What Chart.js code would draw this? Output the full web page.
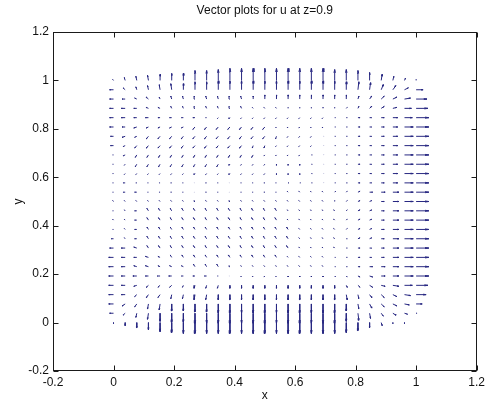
<!DOCTYPE html>
<html>
<head>
<meta charset="utf-8">
<script src="https://cdn.jsdelivr.net/npm/chart.js@4.4.0/dist/chart.umd.min.js"></script>
<style>
    html, body { margin: 0; padding: 0; background: #fff; }
    #wrap { width: 489px; height: 403px; }
</style>
</head>
<body>
<div id="wrap"><canvas id="graficaQuiver"></canvas></div>
<script>
// grid positions (27 x 27)
const xGrid = [0, 0.0385, 0.0769, 0.1154, 0.1538, 0.1923, 0.2308, 0.2692, 0.3077, 0.3462, 0.3846, 0.4231, 0.4615, 0.5,
    0.5385, 0.5769, 0.6154, 0.6538, 0.6923, 0.7308, 0.7692, 0.8077, 0.8462, 0.8846, 0.9231, 0.9615, 1];
const yGrid = [0, 0.0385, 0.0769, 0.1154, 0.1538, 0.1923, 0.2308, 0.2692, 0.3077, 0.3462, 0.3846, 0.4231, 0.4615, 0.5,
    0.5385, 0.5769, 0.6154, 0.6538, 0.6923, 0.7308, 0.7692, 0.8077, 0.8462, 0.8846, 0.9231, 0.9615, 1];

const tickValues = [-0.2, 0, 0.2, 0.4, 0.6, 0.8, 1, 1.2];

// u component (x 1/1000), first row is y = 1, last row is y = 0
const uRows = [
    [-3,-3,-3,-3,0,0,0,0,0,0,0,0,0,0,0,0,0,0,0,0,0,0,0,3,3,3,0],
    [-13,-7,-3,-3,-3,-3,0,0,0,0,0,0,0,0,0,0,0,0,0,0,0,3,3,7,10,13,23],
    [-13,-10,-7,-7,-3,-3,-3,-3,-3,-3,-3,-3,0,0,0,0,0,0,0,0,0,3,7,10,13,20,36],
    [-13,-13,-10,-7,-7,-3,-3,-3,-3,-3,-3,-3,-3,-3,-3,0,0,0,0,0,3,3,7,10,13,23,39],
    [-13,-13,-10,-10,-7,-7,-7,-7,-3,-3,-3,-3,-3,-3,-3,-3,-3,-3,-3,3,3,7,7,10,16,26,42],
    [-13,-10,-10,-7,-7,-7,-7,-7,-7,-7,-7,-7,-7,-7,-3,-3,-3,-3,-3,3,3,7,7,10,16,29,42],
    [-10,-10,-7,-7,-7,-7,-7,-7,-7,-7,-7,-7,-7,-7,-3,-3,-3,-3,3,3,3,7,7,10,16,29,42],
    [-10,-7,-7,-7,-7,-7,-7,-7,-7,-7,-7,-7,-3,-3,-3,-3,-3,-3,3,3,3,7,7,10,16,29,42],
    [-3,-7,-5,-5,-5,-5,-5,-5,-5,-5,-5,-5,-5,-3,-3,-3,-3,3,3,3,3,7,7,10,16,29,42],
    [-3,-3,-5,-5,-5,-5,-5,-5,-5,-5,-3,-3,-3,-3,0,0,0,3,3,3,3,7,7,10,16,29,42],
    [-3,-3,-3,-3,-3,-3,-3,-3,-3,-3,-3,-3,-3,-3,0,0,0,3,3,3,3,7,7,10,16,29,42],
    [-3,-7,-3,-3,-3,-3,-3,-3,-3,-3,-3,-3,-3,-3,-3,3,3,3,3,3,3,7,7,10,16,29,42],
    [-3,-7,-7,-3,-3,-3,-3,-3,-3,-3,-3,-3,-3,-3,-3,-3,-3,-3,-3,3,3,7,10,13,20,29,42],
    [-3,-3,-3,-3,-3,-3,-3,-3,-3,-3,-3,-3,-3,-3,-3,-3,-3,-3,-3,0,3,7,7,10,20,29,42],
    [-3,-3,-7,-5,-5,-5,-5,-5,-5,-5,-5,-5,-5,-5,-5,-3,-3,-3,-3,-3,3,7,7,10,20,29,42],
    [-3,-3,-7,-5,-5,-5,-5,-5,-5,-5,-5,-5,-5,-5,-5,-3,-3,-3,-3,-3,3,7,7,10,20,29,42],
    [-3,-3,-7,-5,-5,-5,-5,-5,-5,-5,-5,-5,-5,-5,-5,-5,-3,-3,-3,-3,3,7,7,10,20,29,42],
    [-7,-3,-7,-5,-5,-5,-5,-5,-5,-5,-5,-5,-5,-5,-5,-5,-3,-3,-3,-3,3,7,7,10,20,29,42],
    [-13,-13,-10,-5,-5,-5,-5,-5,-5,-5,-5,-5,-5,-5,-5,-5,-3,-3,-3,-3,3,7,7,10,20,29,42],
    [-16,-13,-10,-10,-7,-5,-5,-5,-5,-5,-5,-5,-5,-5,-5,-3,-3,-3,-3,3,3,7,7,10,20,29,42],
    [-16,-13,-10,-10,-7,-7,-7,-5,-5,-5,-3,-3,-3,-3,-3,-3,-3,-3,-3,3,3,7,10,13,20,29,42],
    [-16,-13,-13,-10,-10,-10,-7,-7,-7,-3,-3,-3,-3,-3,-3,0,0,0,0,3,3,7,10,13,20,29,42],
    [-16,-13,-10,-7,-7,-7,-3,-3,-3,-3,0,0,0,0,0,0,0,0,0,0,3,7,10,13,20,26,39],
    [-16,-13,-7,-7,-7,-3,-3,-3,-3,0,0,0,0,0,0,0,0,0,0,0,3,3,7,10,13,20,33],
    [-16,-10,-7,-3,-3,0,0,0,0,0,0,0,0,0,0,0,0,0,0,0,0,3,7,10,13,16,20],
    [-13,-7,-3,-3,0,0,0,0,0,0,0,0,0,0,0,0,0,0,0,0,0,3,3,7,10,10,3],
    [0,0,0,0,0,0,0,0,0,0,0,0,0,0,0,0,0,0,0,0,0,0,0,3,0,0,0]
];

// v component (x 1/1000), same order
const vRows = [
    [4,12,17,21,25,29,29,41,41,45,50,50,50,50,50,50,50,50,50,45,45,41,33,25,17,8,4],
    [0,8,12,17,21,25,25,33,33,37,37,37,37,37,37,37,37,37,37,37,33,33,29,21,17,8,0],
    [0,0,4,8,8,12,12,12,12,12,12,12,12,17,17,17,17,17,17,17,17,12,12,12,8,4,0],
    [0,0,0,4,4,8,8,8,8,8,8,8,4,4,4,4,4,4,4,4,4,8,8,8,4,0,0],
    [0,0,0,0,0,0,0,0,0,-4,-4,-4,-4,-4,-4,-4,-4,-4,-4,0,0,0,0,0,0,0,0],
    [0,0,-4,-4,-4,-4,-4,-10,-10,-10,-10,-10,-10,-10,-4,-4,-4,-4,-4,0,0,0,0,0,0,0,0],
    [0,-4,-4,-10,-10,-10,-10,-10,-10,-10,-10,-10,-10,-10,-10,-4,-4,-4,0,0,0,0,0,0,0,0,0],
    [0,-4,-10,-10,-10,-10,-10,-10,-10,-10,-10,-10,-10,-10,-4,-4,-4,-4,0,0,0,0,0,0,0,0,0],
    [0,-4,-10,-10,-10,-10,-10,-10,-10,-10,-10,-10,-10,-4,-4,-4,-4,0,0,0,0,0,0,0,0,0,0],
    [0,-4,-10,-10,-10,-10,-10,-10,-10,-10,-4,-4,-4,-4,-4,-4,-4,0,0,0,0,0,0,0,0,0,0],
    [0,-4,-4,-4,-4,-4,-4,-4,-4,-4,-4,-4,-4,-4,-4,-4,-4,0,0,0,0,0,0,0,0,0,0],
    [0,0,0,0,0,0,0,0,0,0,0,0,0,0,0,0,0,0,0,0,0,0,0,0,0,0,0],
    [0,0,0,0,0,0,0,0,0,0,0,0,0,0,0,4,4,4,4,4,4,4,0,0,0,0,0],
    [4,4,4,4,4,4,4,4,4,4,4,4,4,4,4,4,4,4,4,4,4,4,4,0,0,0,0],
    [0,4,0,10,10,10,10,10,10,10,10,10,10,10,10,4,4,4,4,4,4,4,4,0,0,0,0],
    [4,4,0,10,10,10,10,10,10,10,10,10,10,10,10,4,4,4,4,4,4,4,4,0,0,0,0],
    [0,4,0,10,10,10,10,10,10,10,10,10,10,10,10,10,4,4,4,4,4,4,4,0,0,0,0],
    [0,4,0,10,10,10,10,10,10,10,10,10,10,10,10,10,4,4,4,4,0,4,4,0,0,0,0],
    [0,0,4,10,10,10,10,10,10,10,10,10,10,10,10,10,4,4,4,4,0,0,0,0,0,0,0],
    [0,0,0,4,4,10,10,10,10,10,10,10,10,10,10,4,4,4,4,0,0,0,0,0,0,0,0],
    [0,0,4,4,4,4,4,10,10,10,4,4,4,4,4,4,4,4,4,0,0,0,0,0,0,0,0],
    [0,0,0,0,0,0,0,0,0,0,0,-4,-4,-4,-4,-4,-4,-4,-4,-4,-4,-4,-4,0,0,0,0],
    [0,0,-4,-8,-8,-8,-8,-12,-12,-12,-12,-12,-12,-12,-12,-12,-12,-12,-12,-12,-8,-8,-8,-4,-4,0,0],
    [0,0,-8,-12,-12,-17,-17,-21,-21,-21,-21,-21,-21,-21,-21,-21,-21,-21,-21,-21,-21,-17,-12,-12,-8,-4,0],
    [0,-8,-12,-21,-25,-29,-29,-33,-33,-37,-37,-37,-37,-37,-37,-37,-37,-37,-37,-37,-29,-21,-17,-12,-8,-4,0],
    [0,-8,-17,-25,-33,-37,-37,-41,-41,-41,-41,-41,-41,-41,-41,-41,-41,-41,-41,-41,-33,-29,-21,-12,-8,-4,0],
    [-4,-12,-21,-29,-37,-41,-45,-45,-45,-45,-45,-45,-45,-45,-45,-45,-45,-45,-45,-45,-41,-33,-21,-12,-4,-4,0]
];

// quiver segments like matlab: shaft + narrow head, NaN breaks the line
const alpha = 0.3;
const beta = 0.18;
const gap = {x: NaN, y: NaN};
const arrowPoints = [];

for (let r = 0; r < uRows.length; r++) {
    const y = yGrid[yGrid.length - 1 - r];
    for (let c = 0; c < xGrid.length; c++) {
        const x = xGrid[c];
        const u = uRows[r][c] / 1000;
        const v = vRows[r][c] / 1000;
        if (u === 0 && v === 0) continue;
        const tx = x + u, ty = y + v;
        arrowPoints.push({x: x, y: y}, {x: tx, y: ty}, gap);
        arrowPoints.push(
            {x: tx - alpha * (u + beta * v), y: ty - alpha * (v - beta * u)},
            {x: tx, y: ty},
            {x: tx - alpha * (u - beta * v), y: ty - alpha * (v + beta * u)},
            gap
        );
    }
}

const fuente = {family: "'Liberation Sans', Arial, sans-serif", size: 12};

// matlab style box with inward ticks
const marcoPlugin = {
    id: 'marco',
    afterDraw(chart) {
        const {ctx, chartArea} = chart;
        const sx = chart.scales.x, sy = chart.scales.y;
        const l = Math.round(chartArea.left) + 0.5, r = Math.round(chartArea.right) - 0.5;
        const t = Math.round(chartArea.top) + 0.5, b = Math.round(chartArea.bottom) - 0.5;
        ctx.save();
        ctx.strokeStyle = '#1a1a1a';
        ctx.lineWidth = 1;
        ctx.strokeRect(l, t, r - l, b - t);
        ctx.beginPath();
        tickValues.forEach(v => {
            const px = Math.round(sx.getPixelForValue(v)) + 0.5;
            ctx.moveTo(px, b); ctx.lineTo(px, b - 5);
            ctx.moveTo(px, t); ctx.lineTo(px, t + 5);
            const py = Math.round(sy.getPixelForValue(v)) + 0.5;
            ctx.moveTo(l, py); ctx.lineTo(l + 5, py);
            ctx.moveTo(r, py); ctx.lineTo(r - 5, py);
        });
        ctx.stroke();
        ctx.restore();
    }
};

const ctxQuiver = document.getElementById('graficaQuiver').getContext('2d');

new Chart(ctxQuiver, {
    type: 'scatter',
    data: {
        datasets: [{
            label: 'u',
            data: arrowPoints,
            showLine: true,
            spanGaps: false,
            borderColor: 'rgb(40, 40, 130)',
            borderWidth: 1,
            pointRadius: 0,
            pointHoverRadius: 0
        }]
    },
    options: {
        responsive: true,
        maintainAspectRatio: false,
        animation: false,
        events: [],
        layout: {
            padding: {left: 0, right: 8, top: 0, bottom: 0}
        },
        plugins: {
            legend: {display: false},
            tooltip: {enabled: false},
            title: {
                display: true,
                text: 'Vector plots for u at z=0.9',
                fullSize: false,
                color: '#111',
                font: {family: fuente.family, size: 12, weight: 'normal'},
                padding: {top: 3, bottom: 14.6}
            }
        },
        scales: {
            x: {
                type: 'linear',
                min: -0.2,
                max: 1.2,
                afterFit: (s) => { s.height = 32; },
                afterBuildTicks: (s) => { s.ticks = tickValues.map(v => ({value: v})); },
                ticks: {
                    padding: 4,
                    color: '#111',
                    font: fuente,
                    maxRotation: 0,
                    autoSkip: false,
                    callback: (v) => String(Math.round(v * 10) / 10)
                },
                grid: {display: false, drawTicks: false},
                border: {display: false},
                title: {
                    display: true,
                    text: 'x',
                    color: '#111',
                    font: fuente,
                    padding: {top: 0, bottom: 0}
                }
            },
            y: {
                type: 'linear',
                min: -0.2,
                max: 1.2,
                afterFit: (s) => { s.width = 53; },
                afterBuildTicks: (s) => { s.ticks = tickValues.map(v => ({value: v})); },
                ticks: {
                    padding: 4,
                    color: '#111',
                    font: fuente,
                    autoSkip: false,
                    callback: (v) => String(Math.round(v * 10) / 10)
                },
                grid: {display: false, drawTicks: false},
                border: {display: false},
                title: {
                    display: true,
                    text: 'y',
                    color: '#111',
                    font: fuente,
                    padding: {top: 11, bottom: 0}
                }
            }
        }
    },
    plugins: [marcoPlugin]
});
</script>
</body>
</html>
